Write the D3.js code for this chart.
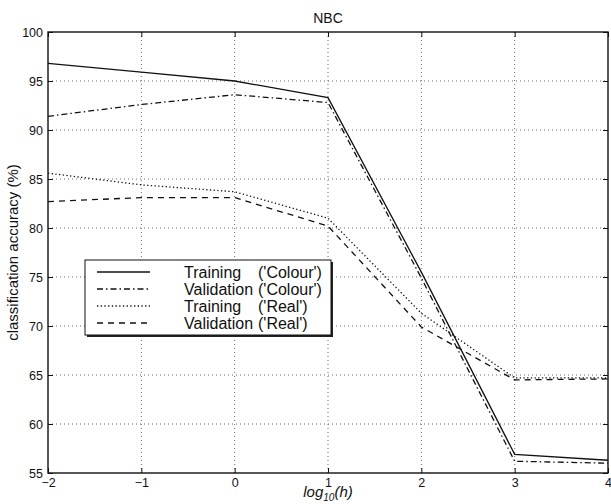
<!DOCTYPE html>
<html>
<head>
<meta charset="utf-8">
<script src="https://cdn.jsdelivr.net/npm/d3@7/dist/d3.min.js"></script>
<style>
    body { margin: 0; background: #fff; }
    svg text { font-family: 'Liberation Sans', Arial, Helvetica, sans-serif; fill: #111; }
    .axis path.domain { display: none; }
    .axis line { stroke: #111; }
    .grid line { stroke: #444; stroke-width: 0.8; stroke-dasharray: 1,3; }
</style>
</head>
<body>
<div id="chart" style="width:611px;height:504px"></div>
<script>

var logH = [-2, -1, 0, 1, 2, 3, 4];
var yTicks = [55, 60, 65, 70, 75, 80, 85, 90, 95, 100];

var trainColour = [96.8, 95.9, 95.0, 93.3, 75.5, 56.9, 56.3];
var validColour = [91.4, 92.6, 93.6, 92.8, 74.9, 56.2, 56.0];
var trainReal = [85.6, 84.4, 83.7, 81.0, 71.3, 64.7, 64.7];
var validReal = [82.7, 83.1, 83.1, 80.2, 69.9, 64.5, 64.6];

var seriesNames = ['Training', 'Validation', 'Training', 'Validation'];
var seriesSets = ["('Colour')", "('Colour')", "('Real')", "('Real')"];


class AccuracyChart {

    constructor(series) {

        this._series = series;
        this._dashes = [null, '6,3,1.5,3', '1.3,2.4', '6,5'];

        this._margin = {
            left: 48,
            top: 32,
            right: 3,
            bottom: 31
        };
    }


    renderTo(selector) {

        this._container = d3.select(selector);

        var width = 611;
        var height = 504;
        var innerWidth = width - this._margin.left - this._margin.right;
        var innerHeight = height - this._margin.top - this._margin.bottom;

        var xScale = d3.scaleLinear().domain([-2, 4]).range([0, innerWidth]);
        var yScale = d3.scaleLinear().domain([55, 100]).range([innerHeight, 0]);

        this._svg = this._container
            .append('svg')
            .attr('width', width)
            .attr('height', height);

        var canvas = this._svg
            .append('g')
            .attr('transform', 'translate(' + [this._margin.left, this._margin.top] + ')');

        // dotted grid
        canvas.append('g')
            .attr('class', 'grid')
            .selectAll('line.gx')
            .data(logH.slice(1, -1))
            .enter()
            .append('line')
            .attr('x1', d => xScale(d))
            .attr('x2', d => xScale(d))
            .attr('y1', 0)
            .attr('y2', innerHeight);

        canvas.select('.grid')
            .selectAll('line.gy')
            .data(yTicks.slice(1, -1))
            .enter()
            .append('line')
            .attr('y1', d => yScale(d))
            .attr('y2', d => yScale(d))
            .attr('x1', 0)
            .attr('x2', innerWidth);

        // axes with inward ticks on all four sides
        canvas.append('g')
            .attr('class', 'axis')
            .attr('transform', 'translate(0,' + innerHeight + ')')
            .call(d3.axisBottom(xScale).tickValues(logH).tickSizeInner(-5).tickSizeOuter(0).tickPadding(5)
                .tickFormat(d => d < 0 ? '\u2212' + Math.abs(d) : d))
            .selectAll('text')
            .style('font-size', '12.5px');

        canvas.append('g')
            .attr('class', 'axis')
            .call(d3.axisTop(xScale).tickValues(logH).tickSizeInner(-5).tickSizeOuter(0).tickFormat(''));

        canvas.append('g')
            .attr('class', 'axis')
            .call(d3.axisLeft(yScale).tickValues(yTicks).tickSizeInner(-5).tickSizeOuter(0).tickPadding(5))
            .selectAll('text')
            .style('font-size', '12.5px');

        canvas.append('g')
            .attr('class', 'axis')
            .attr('transform', 'translate(' + innerWidth + ',0)')
            .call(d3.axisRight(yScale).tickValues(yTicks).tickSizeInner(-5).tickSizeOuter(0).tickFormat(''));

        canvas.append('rect')
            .attr('width', innerWidth)
            .attr('height', innerHeight)
            .style('fill', 'none')
            .style('stroke', '#111')
            .style('stroke-width', 1.4);

        // series
        var line = d3.line()
            .x((d, i) => xScale(logH[i]))
            .y(d => yScale(d));

        canvas.selectAll('path.series')
            .data(this._series)
            .enter()
            .append('path')
            .attr('class', 'series')
            .attr('d', d => line(d))
            .style('fill', 'none')
            .style('stroke', '#111')
            .style('stroke-width', 1.3)
            .style('stroke-dasharray', (d, i) => this._dashes[i]);

        // title and labels
        this._svg.append('text')
            .attr('x', this._margin.left + innerWidth / 2)
            .attr('y', 23)
            .attr('text-anchor', 'middle')
            .style('font-size', '14px')
            .text('NBC');

        this._svg.append('text')
            .attr('transform', 'translate(18,' + (this._margin.top + innerHeight / 2) + ') rotate(-90)')
            .attr('text-anchor', 'middle')
            .style('font-size', '15px')
            .text('classification accuracy (%)');

        var xLabel = this._svg.append('text')
            .attr('x', this._margin.left + innerWidth / 2)
            .attr('y', 497)
            .attr('text-anchor', 'middle')
            .style('font-size', '15px')
            .style('font-style', 'italic');
        xLabel.append('tspan').text('log');
        xLabel.append('tspan').attr('dy', 4).style('font-size', '10px').text('10');
        xLabel.append('tspan').attr('dy', -4).text('(h)');

        this._renderLegend();

        return this;
    }


    _renderLegend() {

        var box = { x: 85, y: 260, width: 246, height: 75 };
        var step = 17;

        var legend = this._svg.append('g');

        legend.append('rect')
            .attr('x', box.x + 2)
            .attr('y', box.y + 2)
            .attr('width', box.width)
            .attr('height', box.height)
            .style('fill', '#222');

        legend.append('rect')
            .attr('x', box.x)
            .attr('y', box.y)
            .attr('width', box.width)
            .attr('height', box.height)
            .style('fill', '#fff')
            .style('stroke', '#111')
            .style('stroke-width', 1);

        var rows = legend.selectAll('g.row')
            .data(seriesNames)
            .enter()
            .append('g')
            .attr('class', 'row')
            .attr('transform', (d, i) => 'translate(0,' + (box.y + 12 + i * step) + ')');

        rows.append('line')
            .attr('x1', 97)
            .attr('x2', 150)
            .style('stroke', '#111')
            .style('stroke-width', 1.3)
            .style('stroke-dasharray', (d, i) => this._dashes[i]);

        rows.append('text')
            .attr('x', 184)
            .attr('dy', '0.35em')
            .style('font-size', '16px')
            .text(d => d);

        rows.append('text')
            .attr('x', 258)
            .attr('dy', '0.35em')
            .style('font-size', '16px')
            .text((d, i) => seriesSets[i]);
    }
}


AccuracyChart.getInstance = function(series) {

    return new AccuracyChart(series);
};

AccuracyChart.getInstance([trainColour, validColour, trainReal, validReal]).renderTo('#chart');

</script>
</body>
</html>
